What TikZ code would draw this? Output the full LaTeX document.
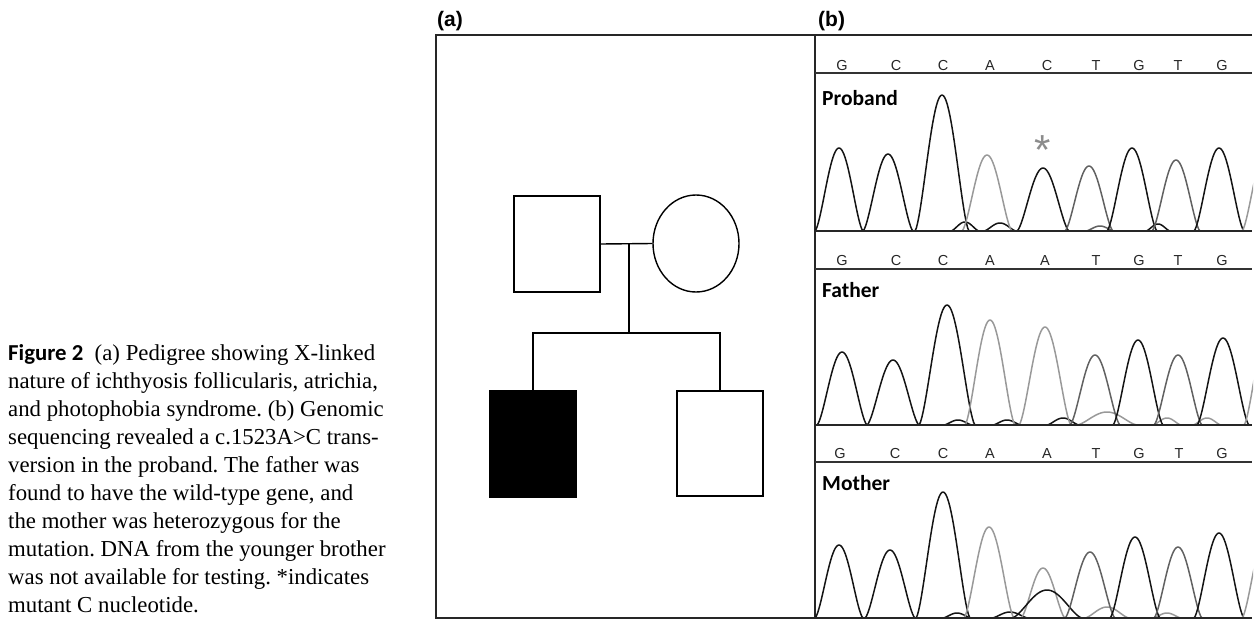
\documentclass[tikz,border=0pt]{standalone}
\usepackage{fontspec}
\setmainfont{Liberation Serif}
\newfontfamily\capsans{Carlito}
\newfontfamily\arialfont{Liberation Sans}
\usetikzlibrary{shapes.geometric}
\frenchspacing
\tikzset{
  frameline/.style={black!85, line width=1.1pt},
  pedline/.style={black, line width=1.4pt},
  pbox/.style={draw=black, line width=1.4pt, rectangle, minimum width=86pt, inner sep=0pt},
  pcirc/.style={draw=black, line width=1.4pt, ellipse, minimum width=86pt, minimum height=97pt, inner sep=0pt},
  captext/.style={anchor=base west, inner sep=0pt, font=\fontsize{22.8}{28}\selectfont},
  panellabel/.style={anchor=base west, inner sep=0pt, font=\arialfont\bfseries\fontsize{21}{21}\selectfont},
  seqlabel/.style={anchor=base west, inner sep=0pt, font=\capsans\bfseries\fontsize{21.5}{21.5}\selectfont},
  baselabel/.style={anchor=base, inner sep=0pt, text=black!85, font=\arialfont\fontsize{14.5}{14.5}\selectfont},
  traceline/.style={line width=1.5pt, line join=round},
  basetrace/.style={black!85, line width=1.8pt},
  seqrule/.style={black!80, line width=1.1pt},
}
\colorlet{cG}{black!92}
\colorlet{cC}{black!92}
\colorlet{cA}{black!40}
\colorlet{cT}{black!62}
% #1 centre x, #2 apex y, #3 base y, #4 half width, #5 colour
\newcommand\trace[5]{%
  \draw[#5, traceline, domain=-#4:#4, samples=41, variable=\t]
    plot ({#1+\t},{#3-(#3-#2)*pow(abs(cos(90*\t/#4)),1.5)});
}
\begin{document}
\begin{tikzpicture}[x=1pt,y=-1pt]
\useasboundingbox (0,0) rectangle (1255,621);

% ---------------- caption ----------------
\node[captext] (cap1) at (8,360) {{\capsans\bfseries Figure 2}\hspace{0.5em}(a) Pedigree showing X-linked};
\node[captext] (cap2) at (8,388) {nature of ichthyosis follicularis, atrichia,};
\node[captext] (cap3) at (8,416) {and photophobia syndrome. (b) Genomic};
\node[captext] (cap4) at (8,444) {sequencing revealed a c.1523A>C trans-};
\node[captext] (cap5) at (8,472) {version in the proband. The father was};
\node[captext] (cap6) at (8,500) {found to have the wild-type gene, and};
\node[captext] (cap7) at (8,528) {the mother was heterozygous for the};
\node[captext] (cap8) at (8,556) {mutation. DNA from the younger brother};
\node[captext] (cap9) at (8,584) {was not available for testing. *indicates};
\node[captext] (cap10) at (8,612) {mutant C nucleotide.};

% ---------------- frame ----------------
\node[panellabel] (la) at (437,26) {(a)};
\node[panellabel] (lb) at (818,26) {(b)};
\draw[frameline] (1252,35) -- (436,35) -- (436,618) -- (1252,618);
\draw[frameline] (815,35) -- (815,618);

% ---------------- pedigree ----------------
\node[pbox, minimum height=96pt] (father) at (557,244) {};
\node[pcirc] (mother) at (696,243.5) {};
\node[pbox, minimum height=106pt, fill=black] (proband) at (533,444) {};
\node[pbox, minimum height=105pt] (brother) at (720,443.5) {};
\coordinate (mate) at (629,244);
\coordinate (sib) at (629,333);
\draw[pedline] (father.east) -- (mother.west);
\draw[pedline] (mate) -- (sib);
\draw[pedline] (proband.north) |- (sib) -| (brother.north);

% ---------------- chromatograms ----------------
\begin{scope}
\clip (815,35) rectangle (1253,620);
% sequence rows
\foreach \r in {73, 269, 462}{
  \draw[seqrule] (815,\r) -- (1252,\r);
}
\foreach \x/\b [count=\i] in {842/G,896/C,943/C,990/A,1047/C,1096/T,1139/G,1178/T,1222/G}
  \node[baselabel, name=sp\i] at (\x,70) {\b};
\foreach \x/\b [count=\i] in {842/G,896/C,943/C,990/A,1045/A,1096/T,1139/G,1178/T,1222/G}
  \node[baselabel, name=sf\i] at (\x,265) {\b};
\foreach \x/\b [count=\i] in {840/G,895/C,943/C,990/A,1047/A,1096/T,1139/G,1179/T,1222/G}
  \node[baselabel, name=sm\i] at (\x,458) {\b};

\node[seqlabel] (lproband) at (822,105) {Proband};
\node[seqlabel] (lfather) at (822,297) {Father};
\node[seqlabel] (lmother) at (822,490) {Mother};

% proband traces (base 231)
\trace{965}{222}{231}{14}{cC}
\trace{1000}{223}{231}{16}{cC}
\trace{1100}{226}{231}{14}{cT}
\trace{1158}{224}{231}{12}{cC}
\trace{839}{148}{231}{24}{cG}
\trace{888}{154}{231}{25}{cC}
\trace{942}{95}{231}{27}{cC}
\trace{987}{155}{231}{25}{cA}
\trace{1043}{168}{231}{26}{cC}
\trace{1089}{166}{231}{24}{cT}
\trace{1132}{148}{231}{25}{cG}
\trace{1176}{160}{231}{24}{cT}
\trace{1219}{148}{231}{25}{cG}
\trace{1266}{150}{231}{24}{cA}
\draw[basetrace] (815,231) -- (1252,231);
\node[text=black!45, inner sep=0pt, font=\arialfont\fontsize{42}{42}\selectfont] (star) at (1043,150) {*};

% father traces (base 425)
\trace{958}{420}{425}{14}{cC}
\trace{1007}{420}{425}{14}{cC}
\trace{1063}{418}{425}{16}{cC}
\trace{1107}{412}{425}{30}{cA}
\trace{1167}{418}{425}{14}{cA}
\trace{1207}{418}{425}{14}{cA}
\trace{842}{352}{425}{25}{cG}
\trace{893}{360}{425}{26}{cC}
\trace{947}{305}{425}{28}{cC}
\trace{990}{320}{425}{25}{cA}
\trace{1045}{327}{425}{26}{cA}
\trace{1095}{355}{425}{25}{cT}
\trace{1138}{340}{425}{25}{cG}
\trace{1178}{355}{425}{24}{cT}
\trace{1223}{338}{425}{26}{cG}
\trace{1268}{330}{425}{24}{cA}
\draw[basetrace] (815,425) -- (1252,425);

% mother traces (base 618)
\trace{957}{613}{618}{14}{cC}
\trace{1010}{612}{618}{18}{cC}
\trace{1107}{607}{618}{22}{cA}
\trace{1167}{613}{618}{14}{cA}
\trace{839}{545}{618}{24}{cG}
\trace{890}{550}{618}{25}{cC}
\trace{943}{492}{618}{27}{cC}
\trace{989}{527}{618}{25}{cA}
\trace{1043}{568}{618}{22}{cA}
\trace{1047}{590}{618}{35}{cC}
\trace{1090}{552}{618}{25}{cT}
\trace{1135}{537}{618}{25}{cG}
\trace{1178}{547}{618}{24}{cT}
\trace{1219}{533}{618}{25}{cG}
\trace{1266}{535}{618}{24}{cA}
\draw[basetrace] (815,618) -- (1252,618);
\end{scope}
\end{tikzpicture}
\end{document}
